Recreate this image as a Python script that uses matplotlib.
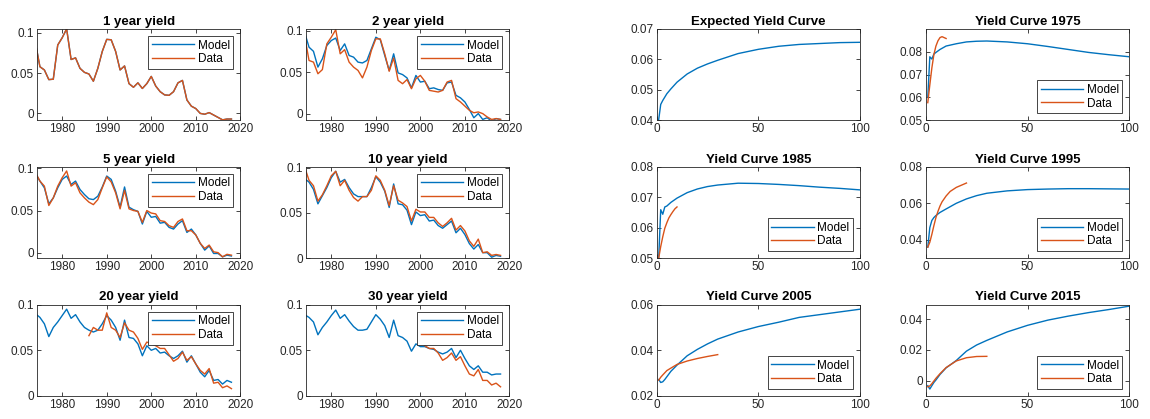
import numpy as np
import matplotlib.pyplot as plt
from matplotlib.ticker import FuncFormatter

plt.rcParams['font.family'] = ['Liberation Sans', 'DejaVu Sans']

BLUE = '#0072BD'
ORANGE = '#D95319'
GREY = '#262626'

years = list(range(1974, 2019))

# yields by maturity, 1974-2018
y1_model = [0.0875, 0.058, 0.054, 0.042, 0.0425, 0.085, 0.094, 0.105, 0.067, 0.069,
            0.056, 0.051, 0.049, 0.040, 0.056, 0.077, 0.092, 0.0915, 0.077, 0.054,
            0.059, 0.037, 0.0325, 0.038, 0.031, 0.037, 0.046, 0.034, 0.027, 0.023,
            0.0225, 0.027, 0.038, 0.041, 0.0167, 0.009, 0.006, 0.0, -0.001, 0.001,
            -0.002, -0.005, -0.008, -0.007, -0.007]
y1_data = list(y1_model)

y2_model = [0.098, 0.080, 0.075, 0.056, 0.066, 0.082, 0.088, 0.091, 0.076, 0.084,
            0.070, 0.068, 0.062, 0.061, 0.064, 0.078, 0.092, 0.089, 0.070, 0.052,
            0.072, 0.049, 0.047, 0.043, 0.031, 0.046, 0.038, 0.039, 0.030, 0.031,
            0.029, 0.028, 0.037, 0.038, 0.022, 0.019, 0.014, 0.005, -0.005, 0.0,
            -0.007, -0.005, -0.009, -0.006, -0.007]
y2_data = [0.094, 0.064, 0.062, 0.048, 0.053, 0.084, 0.092, 0.101, 0.072, 0.077,
           0.062, 0.056, 0.052, 0.043, 0.056, 0.076, 0.090, 0.090, 0.072, 0.051,
           0.067, 0.040, 0.036, 0.041, 0.030, 0.042, 0.046, 0.039, 0.028, 0.027,
           0.026, 0.028, 0.038, 0.040, 0.018, 0.014, 0.009, 0.004, 0.001, 0.002,
           0.0, -0.004, -0.007, -0.006, -0.007]

y5_model = [0.094, 0.085, 0.077, 0.058, 0.065, 0.077, 0.087, 0.091, 0.081, 0.085,
            0.075, 0.069, 0.064, 0.063, 0.067, 0.078, 0.091, 0.087, 0.073, 0.054,
            0.078, 0.054, 0.051, 0.049, 0.034, 0.049, 0.042, 0.043, 0.035, 0.036,
            0.030, 0.028, 0.034, 0.038, 0.024, 0.028, 0.021, 0.011, 0.003, 0.008,
            -0.001, -0.001, -0.005, -0.003, -0.004]
y5_data = [0.095, 0.085, 0.079, 0.056, 0.065, 0.079, 0.089, 0.097, 0.079, 0.083,
           0.071, 0.065, 0.060, 0.057, 0.063, 0.077, 0.090, 0.084, 0.071, 0.052,
           0.074, 0.052, 0.050, 0.049, 0.036, 0.050, 0.047, 0.046, 0.038, 0.037,
           0.032, 0.030, 0.037, 0.040, 0.026, 0.026, 0.021, 0.011, 0.005, 0.009,
           0.001, 0.000, -0.005, -0.002, -0.003]

y10_model = [0.088, 0.084, 0.076, 0.060, 0.069, 0.078, 0.089, 0.096, 0.084, 0.087,
             0.078, 0.071, 0.068, 0.068, 0.068, 0.078, 0.090, 0.084, 0.074, 0.056,
             0.082, 0.060, 0.059, 0.053, 0.037, 0.051, 0.047, 0.048, 0.041, 0.042,
             0.036, 0.033, 0.037, 0.041, 0.028, 0.033, 0.026, 0.016, 0.010, 0.015,
             0.006, 0.006, 0.001, 0.003, 0.002]
y10_data = [0.101, 0.086, 0.080, 0.063, 0.070, 0.080, 0.091, 0.096, 0.080, 0.086,
            0.075, 0.067, 0.063, 0.068, 0.068, 0.075, 0.091, 0.086, 0.075, 0.058,
            0.080, 0.064, 0.061, 0.057, 0.041, 0.054, 0.051, 0.051, 0.045, 0.045,
            0.039, 0.035, 0.039, 0.044, 0.031, 0.036, 0.030, 0.019, 0.013, 0.021,
            0.006, 0.007, 0.003, 0.004, 0.003]

y20_model = [0.090, 0.086, 0.079, 0.065, 0.075, 0.081, 0.088, 0.095, 0.085, 0.089,
             0.081, 0.075, 0.072, 0.070, 0.072, 0.079, 0.088, 0.083, 0.075, 0.061,
             0.083, 0.064, 0.063, 0.057, 0.044, 0.055, 0.050, 0.052, 0.047, 0.048,
             0.044, 0.041, 0.044, 0.049, 0.037, 0.044, 0.035, 0.026, 0.021, 0.028,
             0.017, 0.018, 0.013, 0.017, 0.015]
years20_data = list(range(1986, 2019))
y20_data = [0.066, 0.075, 0.072, 0.072, 0.091, 0.075, 0.072, 0.064, 0.080, 0.072,
            0.070, 0.063, 0.051, 0.059, 0.057, 0.055, 0.052, 0.052, 0.045, 0.038,
            0.041, 0.048, 0.039, 0.043, 0.035, 0.028, 0.024, 0.030, 0.014, 0.015,
            0.009, 0.011, 0.008]

y30_model = [0.089, 0.086, 0.081, 0.067, 0.075, 0.081, 0.088, 0.094, 0.085, 0.089,
             0.082, 0.076, 0.072, 0.072, 0.073, 0.081, 0.089, 0.084, 0.077, 0.064,
             0.083, 0.066, 0.064, 0.060, 0.049, 0.057, 0.054, 0.054, 0.052, 0.051,
             0.048, 0.046, 0.048, 0.052, 0.042, 0.050, 0.041, 0.033, 0.029, 0.033,
             0.026, 0.026, 0.023, 0.024, 0.024]
years30_data = list(range(2001, 2019))
y30_data = [0.055, 0.052, 0.052, 0.047, 0.039, 0.042, 0.047, 0.039, 0.043, 0.033,
            0.024, 0.022, 0.029, 0.017, 0.017, 0.012, 0.014, 0.010]

# yield curves by maturity (years)
mat_model = [1, 2, 3, 4, 5, 7, 10, 15, 20, 25, 30, 40, 50, 60, 70, 80, 90, 100]
exp_curve = [0.0402, 0.0452, 0.0465, 0.0476, 0.0487, 0.0503, 0.0525, 0.0552, 0.0571,
             0.0585, 0.0597, 0.0619, 0.0633, 0.0643, 0.0649, 0.0652, 0.0655, 0.0656]
c1975_model = [0.0600, 0.0778, 0.0768, 0.0790, 0.0797, 0.0810, 0.0825, 0.0835, 0.0843,
               0.0846, 0.0847, 0.0843, 0.0835, 0.0823, 0.0810, 0.0797, 0.0787, 0.0778]
c1985_model = [0.0500, 0.0659, 0.0644, 0.0668, 0.0671, 0.0683, 0.0697, 0.0715, 0.0727,
               0.0735, 0.0740, 0.0746, 0.0745, 0.0742, 0.0738, 0.0733, 0.0729, 0.0724]
c1995_model = [0.0360, 0.0467, 0.0506, 0.0522, 0.0533, 0.0550, 0.0569, 0.0600, 0.0624,
               0.0642, 0.0655, 0.0668, 0.0675, 0.0678, 0.0680, 0.0680, 0.0679, 0.0678]
c2005_model = [0.0272, 0.0259, 0.0262, 0.0272, 0.0284, 0.0308, 0.0335, 0.0376, 0.0404,
               0.0428, 0.0449, 0.0480, 0.0504, 0.0523, 0.0544, 0.0556, 0.0568, 0.0580]
c2015_model = [-0.0033, -0.0055, -0.0033, -0.0012, 0.0004, 0.0040, 0.0083, 0.0131, 0.0192,
               0.0232, 0.0262, 0.0317, 0.0360, 0.0394, 0.0420, 0.0443, 0.0463, 0.0485]

mat1975_data = [1, 2, 3, 4, 5, 6, 7, 8, 9, 10]
c1975_data = [0.0577, 0.0655, 0.0729, 0.0788, 0.0825, 0.0848, 0.0862, 0.0866, 0.0862, 0.0858]
mat1985_data = [1, 2, 3, 4, 5, 6, 7, 8, 9, 10]
c1985_data = [0.0500, 0.0538, 0.0570, 0.0598, 0.0616, 0.0632, 0.0643, 0.0653, 0.0662, 0.0668]
mat1995_data = [1, 2, 3, 4, 5, 6, 7, 8, 10, 12, 15, 20]
c1995_data = [0.0360, 0.0387, 0.0430, 0.0478, 0.0522, 0.0556, 0.0585, 0.0608, 0.0640,
              0.0665, 0.0687, 0.0711]
mat2005_data = [1, 2, 3, 5, 7, 10, 15, 20, 25, 30]
c2005_data = [0.0269, 0.0282, 0.0292, 0.0311, 0.0322, 0.0338, 0.0353, 0.0364, 0.0373, 0.0381]
mat2015_data = [1, 2, 3, 5, 7, 10, 15, 20, 25, 30]
c2015_data = [-0.0040, -0.0035, -0.0020, 0.0015, 0.0045, 0.0085, 0.0128, 0.0149, 0.0157, 0.0158]

fmt = FuncFormatter(lambda v, p: ('%g' % round(v, 4)))


def style_ax(ax):
    ax.tick_params(direction='in', length=3, width=0.6, colors=GREY,
                   labelsize=8.5, top=True, right=True, pad=2)
    for s in ax.spines.values():
        s.set_color(GREY)
        s.set_linewidth(0.6)
    ax.yaxis.set_major_formatter(fmt)


def add_legend(ax, loc):
    leg = ax.legend(loc=loc, fontsize=8.5, frameon=True, fancybox=False,
                    edgecolor=GREY, framealpha=1, handlelength=3.6,
                    borderpad=0.3, labelspacing=0.15, handletextpad=0.3,
                    borderaxespad=0.6)
    leg.get_frame().set_linewidth(0.6)


fig = plt.figure(figsize=(11.5, 4.19), dpi=100)

lefts = [0.032, 0.266, 0.571, 0.805]
bottoms = [0.713, 0.384, 0.055]
w = 0.177
h = 0.218

left_panels = [
    ('1 year yield', years, y1_model, years, y1_data, (-0.0085, 0.105)),
    ('2 year yield', years, y2_model, years, y2_data, (-0.008, 0.102)),
    ('5 year yield', years, y5_model, years, y5_data, (-0.0065, 0.102)),
    ('10 year yield', years, y10_model, years, y10_data, (0, 0.101)),
    ('20 year yield', years, y20_model, years20_data, y20_data, (0, 0.1)),
    ('30 year yield', years, y30_model, years30_data, y30_data, (0, 0.1)),
]

for i, (title, xm, ym, xd, yd, ylim) in enumerate(left_panels):
    ax = fig.add_axes([lefts[i % 2], bottoms[i // 2], w, h])
    ax.plot(xm, ym, color=BLUE, lw=1.0, label='Model')
    ax.plot(xd, yd, color=ORANGE, lw=1.0, label='Data')
    ax.set_xlim(1974.3, 2020)
    ax.set_ylim(*ylim)
    ax.set_xticks([1980, 1990, 2000, 2010, 2020])
    ax.set_yticks([0, 0.05, 0.1])
    ax.set_title(title, fontsize=9.5, fontweight='bold', pad=3)
    style_ax(ax)
    add_legend(ax, 'upper right')

right_panels = [
    ('Expected Yield Curve', exp_curve, None, None, (0.04, 0.07), [0.04, 0.05, 0.06, 0.07]),
    ('Yield Curve 1975', c1975_model, mat1975_data, c1975_data, (0.05, 0.09), [0.05, 0.06, 0.07, 0.08]),
    ('Yield Curve 1985', c1985_model, mat1985_data, c1985_data, (0.05, 0.08), [0.05, 0.06, 0.07, 0.08]),
    ('Yield Curve 1995', c1995_model, mat1995_data, c1995_data, (0.03, 0.08), [0.04, 0.06, 0.08]),
    ('Yield Curve 2005', c2005_model, mat2005_data, c2005_data, (0.02, 0.06), [0.02, 0.04, 0.06]),
    ('Yield Curve 2015', c2015_model, mat2015_data, c2015_data, (-0.01, 0.0495), [0, 0.02, 0.04]),
]

for i, (title, ym, xd, yd, ylim, yt) in enumerate(right_panels):
    ax = fig.add_axes([lefts[2 + i % 2], bottoms[i // 2], w, h])
    ax.plot(mat_model, ym, color=BLUE, lw=1.0, label='Model')
    if xd is not None:
        ax.plot(xd, yd, color=ORANGE, lw=1.0, label='Data')
    ax.set_xlim(0, 100)
    ax.set_ylim(*ylim)
    ax.set_xticks([0, 50, 100])
    ax.set_yticks(yt)
    ax.set_title(title, fontsize=9.5, fontweight='bold', pad=3)
    style_ax(ax)
    if xd is not None:
        add_legend(ax, 'lower right')

fig.savefig('out.png', dpi=100)
